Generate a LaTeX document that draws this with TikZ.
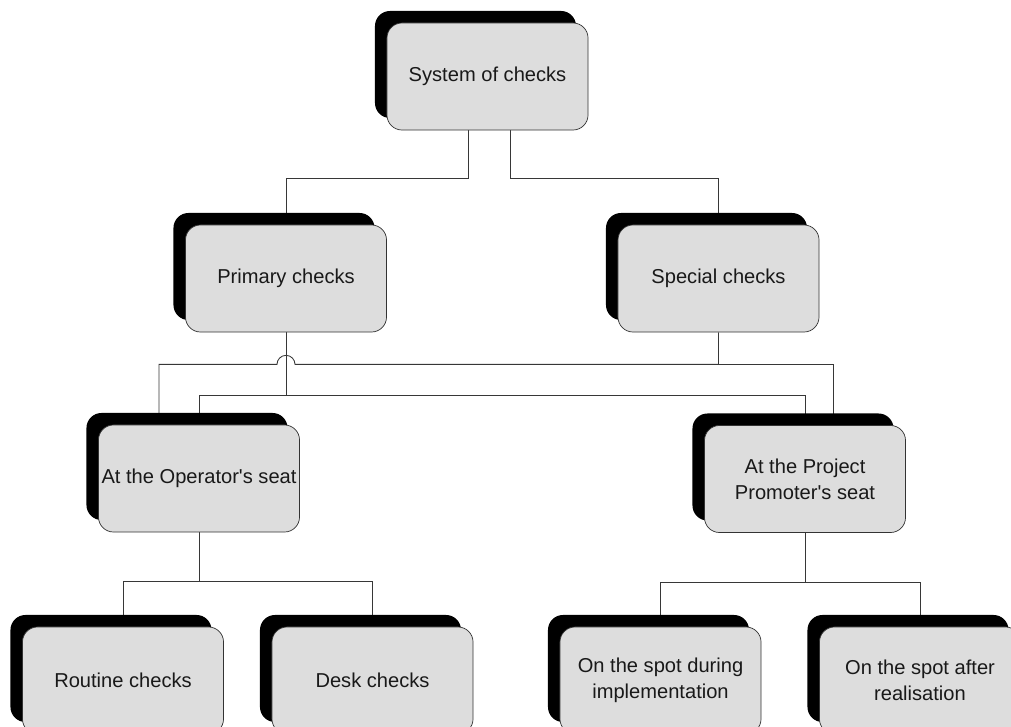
\documentclass[tikz,border=0pt]{standalone}
\usepackage{fontspec}
\setmainfont{Liberation Sans}
\usetikzlibrary{
  calc,
  positioning,
  shadows,
  backgrounds
}
\definecolor{boxgray}{RGB}{221,221,221}
\definecolor{linegray}{RGB}{55,55,55}

\begin{document}
\begin{tikzpicture}[x=0.025cm, y=-0.025cm,
  chkbox/.style={draw=black!80, line width=0.5pt, fill=boxgray, rounded corners=0.375cm,
        minimum width=5.025cm, minimum height=2.675cm, inner sep=1pt, align=center,
        font=\fontsize{14.3}{18.3}\selectfont, text=black!90,
        drop shadow={shadow xshift=-0.3cm, shadow yshift=0.3cm, fill=black, opacity=1}},
  link/.style={draw=linegray, line width=0.6pt}]
  \useasboundingbox (0,0) rectangle (1011,727);
  \clip (0,0) rectangle (1011,727);
  % Top
  \node[chkbox] (sys) at (487.5,76.5) {System of checks};
  % Second level
  \node[chkbox] (prim) at (286,278.5) {Primary checks};
  \node[chkbox] (spec) at (718.5,278.5) {Special checks};
  % Third level
  \node[chkbox] (oper) at (199,478.5) {At the Operator\textquotesingle s seat};
  \node[chkbox] (prom) at (805,479) {At the Project\\Promoter\textquotesingle s seat};
  % Bottom level
  \node[chkbox] (rout) at (123,680.5) {Routine checks};
  \node[chkbox] (desk) at (372.5,680.5) {Desk checks};
  \node[chkbox] (dur) at (660.5,680.5) {On the spot during\\implementation};
  \node[chkbox] (aft) at (920,680.5) {On the spot after\\realisation};
  % Connectors
  \begin{scope}[on background layer]
    \draw[link] ($(sys.south)+(-19.5,0)$) -- ++(0,48) -| (prim.north);
    \draw[link] ($(sys.south)+(22.5,0)$) -- ++(0,48) -| (spec.north);
    \draw[link] (prim.south) -- ++(0,63) coordinate (pj) -| (oper.north);
    \draw[link] (pj) -| (prom.north);
    \draw[link] (spec.south) -- ++(0,32) coordinate (sj)
      -- ($(sj -| prim.south)+(9,0)$) arc[start angle=0, end angle=180, radius=0.225cm]
      -| ($(oper.north)+(-40,0)$);
    \draw[link] (sj) -| ($(prom.north)+(28,0)$);
    \draw[link] (oper.south) -- ++(0,49) coordinate (oj) -| (rout.north);
    \draw[link] (oj) -| (desk.north);
    \draw[link] (prom.south) -- ++(0,50) coordinate (rj) -| (dur.north);
    \draw[link] (rj) -| (aft.north);
  \end{scope}
\end{tikzpicture}
\end{document}
